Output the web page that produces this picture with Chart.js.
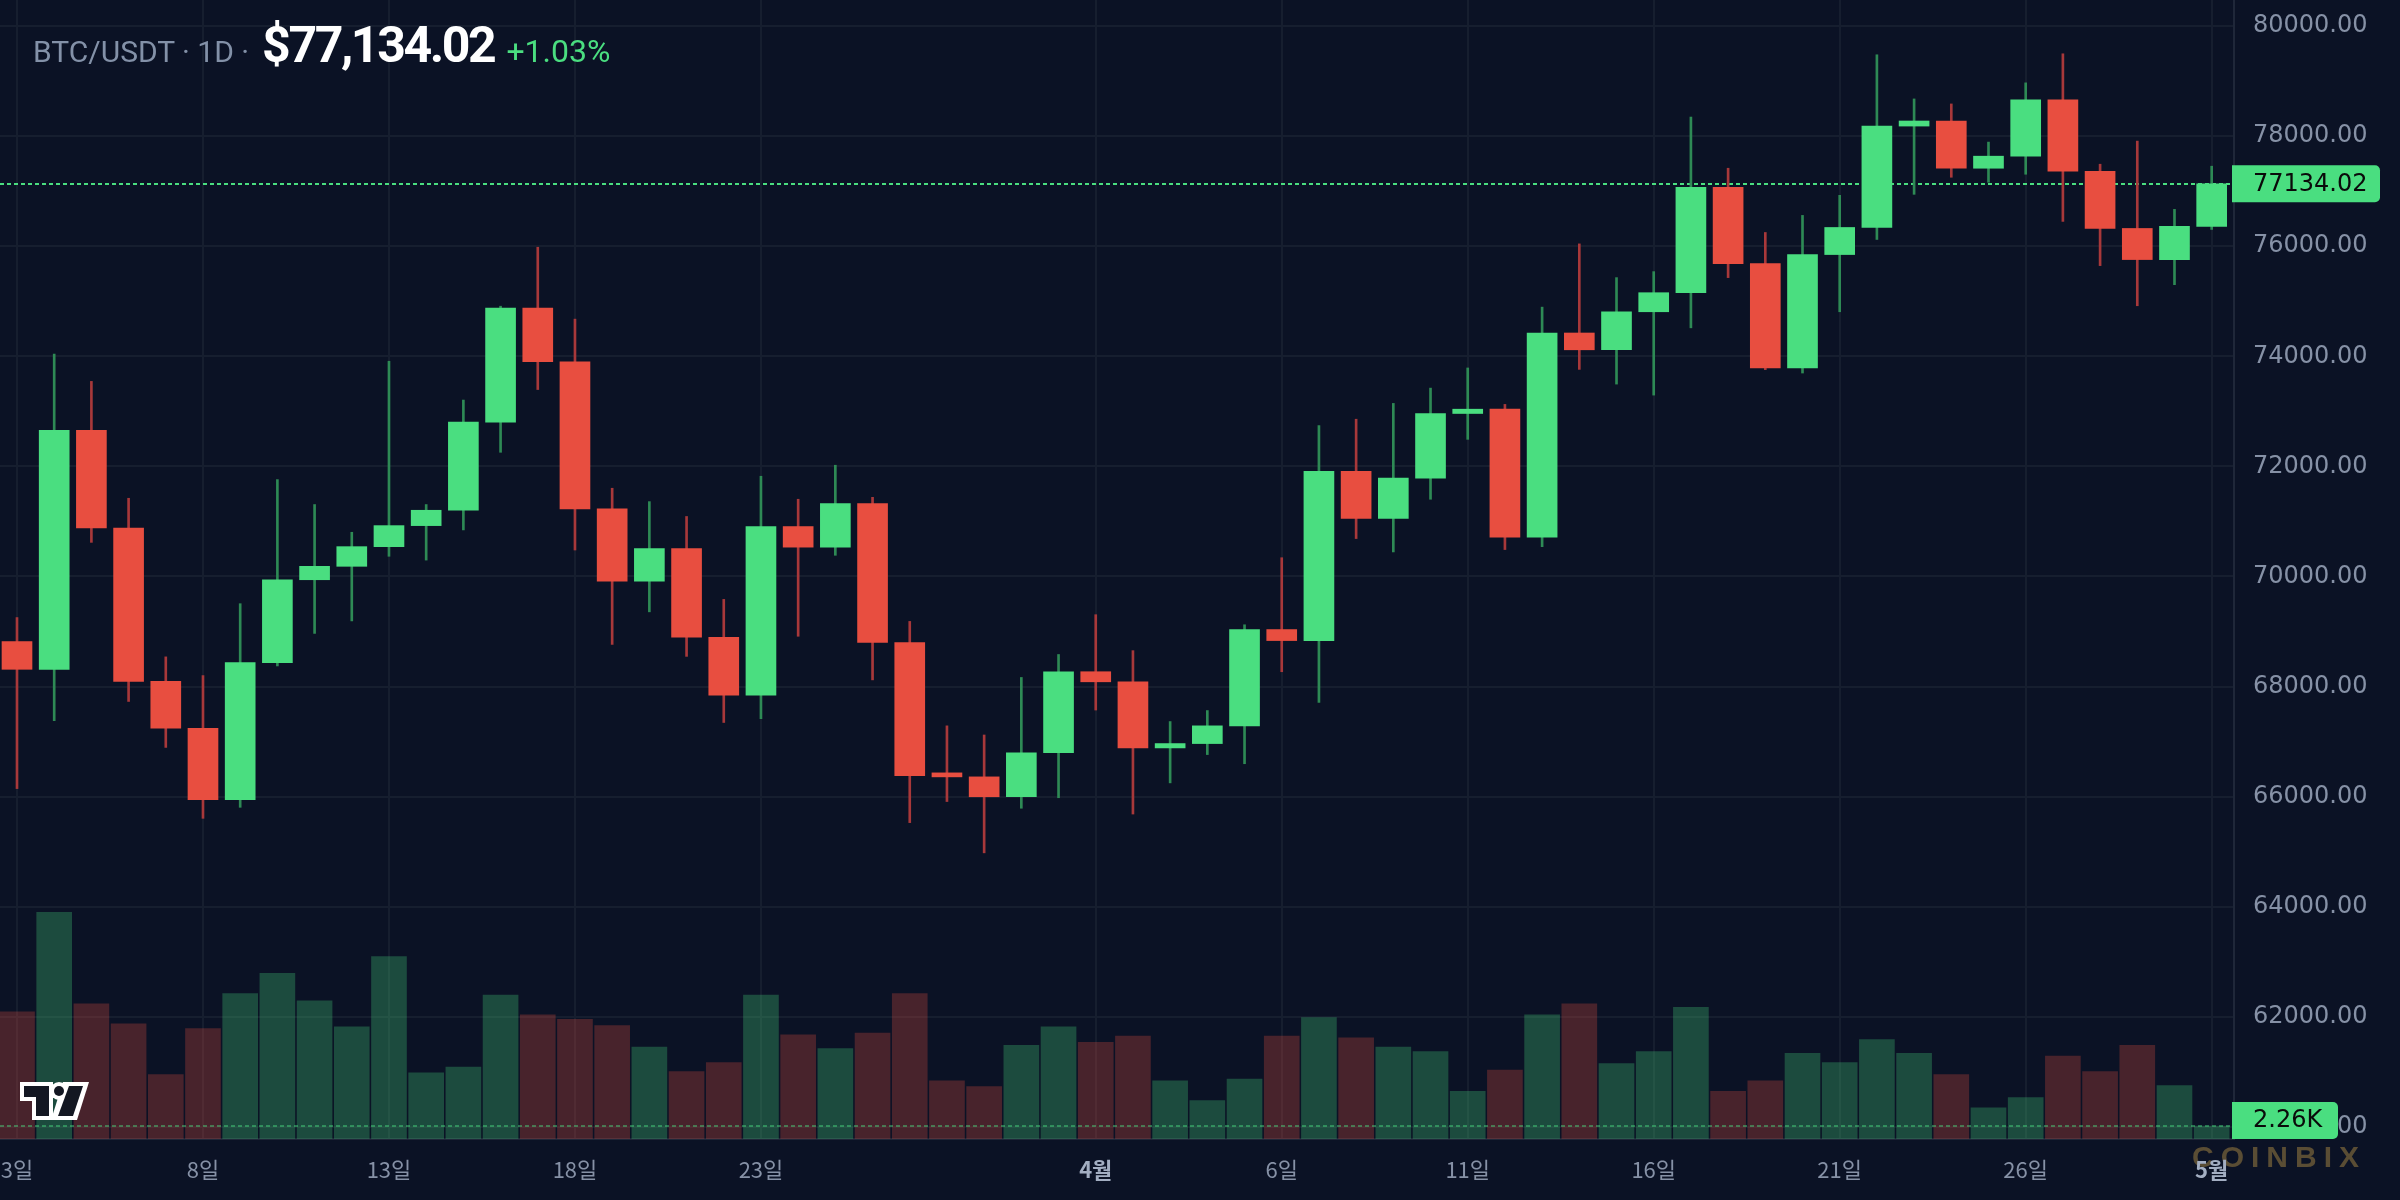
<!DOCTYPE html>
<html>
<head>
<meta charset="utf-8">
<script src="https://cdn.jsdelivr.net/npm/chart.js@4/dist/chart.umd.min.js"></script>
<style>
  body { margin: 0; background: #0b1225; }
  #wrap { position: relative; width: 2400px; height: 1200px; }
  #header {
    position: absolute; left: 33px; top: 16px; display: flex; align-items: baseline;
    font-family: Roboto, sans-serif; pointer-events: none; white-space: nowrap;
  }
  #header .sym { font-size: 30px; color: #8391a8; }
  #header .price { font-size: 50px; font-weight: 700; color: #ffffff; letter-spacing: -2.4px; margin: 0 12px 0 13px; }
  #header .chg { font-size: 32px; color: #4ade80; }
</style>
</head>
<body>
<div id="wrap">
  <canvas id="btcChart"></canvas>
  <div id="header">
    <span class="sym">BTC/USDT · 1D ·</span>
    <span class="price">$77,134.02</span>
    <span class="chg">+1.03%</span>
  </div>
</div>
<script>
// daily candles, 3 Mar .. 1 May
const opens = [68818, 68314, 72656, 70881, 68096, 67243, 65946, 68435, 69941, 70185,
    70542, 70924, 71203, 72804, 74876, 73901, 71229, 69915, 70507, 68897,
    67844, 70907, 70533, 71325, 68801, 66381, 66360, 65999, 66799, 68270,
    68087, 66886, 66965, 67287, 69036, 68836, 71908, 71055, 71786, 72961,
    73039, 70716, 74423, 74118, 74809, 75155, 77070, 75684, 73787, 75848,
    76340, 78182, 78274, 77416, 77635, 78657, 77362, 76322, 75757, 76359];
const highs = [69254, 74040, 73544, 71421, 68540, 68200, 69506, 71760, 71307, 70803,
    73910, 71307, 73205, 74910, 75981, 74675, 71603, 71360, 71090, 69584,
    71821, 71403, 72021, 71438, 69184, 67287, 67121, 68166, 68583, 69306,
    68653, 67365, 67565, 69123, 70341, 72743, 72857, 73144, 73422, 73788,
    73126, 74893, 76042, 75429, 75538, 78346, 77416, 76249, 76559, 76924,
    79477, 78675, 78584, 77891, 78967, 79495, 77489, 77909, 76669, 77453];
const lows = [66147, 67382, 70620, 67730, 66895, 65607, 65807, 68375, 68966, 69193,
    70367, 70298, 70846, 72256, 73396, 70481, 68766, 69358, 68549, 67348,
    67417, 68914, 70385, 68122, 65529, 65912, 64980, 65790, 65981, 67574,
    65685, 66251, 66765, 66599, 68270, 67713, 70689, 70446, 71403, 72491,
    70489, 70542, 73762, 73495, 73295, 74517, 75429, 73757, 73696, 74809,
    76122, 76942, 77252, 77161, 77307, 76450, 75647, 74918, 75301, 76304];
const closes = [68314, 72656, 70881, 68096, 67243, 65946, 68435, 69941, 70185, 70542,
    70924, 71203, 72804, 74876, 73901, 71229, 69915, 70507, 68897, 67844,
    70907, 70533, 71325, 68801, 66381, 66360, 65999, 66799, 68270, 68087,
    66886, 66965, 67287, 69036, 68836, 71908, 71055, 71786, 72961, 73039,
    70716, 74423, 74118, 74809, 75155, 77070, 75684, 73787, 75848, 76340,
    78182, 78274, 77416, 77635, 78657, 77362, 76322, 75757, 76359, 77134.02];
// volume in thousands
const volumes = [22.1, 39.4, 23.5, 20.0, 11.2, 19.2, 25.3, 28.8, 24.0, 19.5,
    31.7, 11.5, 12.5, 25.0, 21.6, 20.8, 19.7, 16.0, 11.7, 13.3,
    25.0, 18.1, 15.7, 18.4, 25.3, 10.1, 9.1, 16.3, 19.5, 16.8,
    17.9, 10.1, 6.7, 10.4, 17.9, 21.1, 17.6, 16.0, 15.2, 8.3,
    12.0, 21.6, 23.5, 13.1, 15.2, 22.9, 8.3, 10.1, 14.9, 13.3,
    17.3, 14.9, 11.2, 5.4, 7.2, 14.4, 11.7, 16.3, 9.3, 2.26];

const xTickIndex = [0, 5, 10, 15, 20, 29, 34, 39, 44, 49, 54, 59];
const xTickLabels = ['3일', '8일', '13일', '18일', '23일', '4월', '6일', '11일', '16일', '21일', '26일', '5월'];
const priceTicks = [60000, 62000, 64000, 66000, 68000, 70000, 72000, 74000, 76000, 78000, 80000];

const UP = '#4ade80';
const DOWN = '#e84e40';
const UP_WICK = '#2e8a55';
const DOWN_WICK = '#a8383a';
const GRID = '#161e2f';
const AXIS_TEXT = '#8691a6';

const lastClose = closes[closes.length - 1];
const lastVolume = volumes[volumes.length - 1];
const isUp = (i) => closes[i] >= opens[i];
const isMonth = (v) => {
    const k = xTickIndex.indexOf(v);
    return k >= 0 && xTickLabels[k].endsWith('월');
};

const overlays = {
    id: 'overlays',
    beforeDraw(chart) {
        const c = chart.ctx;
        c.save();
        c.font = 'bold 30px "Liberation Sans", Arial, sans-serif';
        c.letterSpacing = '7px';
        c.fillStyle = '#5a4d34';
        c.textBaseline = 'alphabetic';
        c.fillText('COINBIX', 2192, 1167);
        c.restore();
    },
    beforeDatasetsDraw(chart) {
        const c = chart.ctx;
        const area = chart.chartArea;
        const y = Math.round(chart.scales.y.getPixelForValue(lastClose));
        c.save();
        c.strokeStyle = UP;
        c.lineWidth = 2;
        c.setLineDash([4, 3]);
        c.beginPath();
        c.moveTo(area.left, y);
        c.lineTo(area.right, y);
        c.stroke();
        c.restore();
    },
    afterDatasetsDraw(chart) {
        const c = chart.ctx;
        const area = chart.chartArea;
        const y = Math.round(chart.scales.y2.getPixelForValue(lastVolume));
        c.save();
        c.strokeStyle = 'rgba(74, 222, 128, 0.45)';
        c.lineWidth = 2;
        c.setLineDash([4, 3]);
        c.beginPath();
        c.moveTo(area.left, y);
        c.lineTo(area.right, y);
        c.stroke();
        c.restore();

        // logo
        c.save();
        c.fillStyle = '#ffffff';
        c.fillRect(20, 1082, 33, 19);
        c.fillRect(32, 1082, 21, 38);
        c.beginPath(); c.arc(59, 1091, 9, 0, Math.PI * 2); c.fill();
        c.beginPath();
        c.moveTo(63, 1082); c.lineTo(89, 1082); c.lineTo(77, 1120); c.lineTo(51, 1120);
        c.closePath(); c.fill();
        c.fillStyle = '#131722';
        c.fillRect(24, 1086, 25, 11);
        c.fillRect(36, 1086, 13, 30);
        c.beginPath(); c.arc(59, 1091, 5, 0, Math.PI * 2); c.fill();
        c.beginPath();
        c.moveTo(69, 1086); c.lineTo(83, 1086); c.lineTo(73, 1116); c.lineTo(58, 1116);
        c.closePath(); c.fill();
        c.restore();
    },
    afterDraw(chart) {
        const c = chart.ctx;
        const area = chart.chartArea;
        c.save();
        c.font = '24px "DejaVu Sans", sans-serif';
        c.textBaseline = 'middle';

        // last price tag
        const py = chart.scales.y.getPixelForValue(lastClose);
        c.fillStyle = UP;
        c.beginPath();
        c.roundRect(area.right - 2, py - 18.5, 148, 37, [0, 5, 5, 0]);
        c.fill();
        c.fillStyle = '#0a0a0a';
        c.fillText(lastClose.toFixed(2), 2253, py + 1);

        // last volume tag
        const vy = chart.scales.y2.getPixelForValue(lastVolume);
        const top = Math.min(vy - 18.5, area.bottom - 37);
        c.fillStyle = UP;
        c.beginPath();
        c.roundRect(area.right - 2, top, 106, 37, [0, 5, 5, 0]);
        c.fill();
        c.fillStyle = '#0a0a0a';
        c.fillText(lastVolume.toFixed(2) + 'K', 2253, top + 19);
        c.restore();
    }
};

const ctx = document.getElementById('btcChart');

new Chart(ctx, {
    type: 'bar',
    data: {
        datasets: [{
            label: 'body',
            data: opens.map((o, i) => ({ x: i, y: [o, closes[i]] })),
            backgroundColor: (c) => isUp(c.dataIndex) ? UP : DOWN,
            barThickness: 30,
            minBarLength: 4,
            grouped: false,
            order: 1,
            yAxisID: 'y',
        }, {
            label: 'wick',
            data: lows.map((l, i) => ({ x: i, y: [l, highs[i]] })),
            backgroundColor: (c) => isUp(c.dataIndex) ? UP_WICK : DOWN_WICK,
            barThickness: 2,
            grouped: false,
            order: 2,
            yAxisID: 'y',
        }, {
            label: 'volume',
            data: volumes.map((v, i) => ({ x: i, y: v })),
            backgroundColor: (c) => isUp(c.dataIndex) ? 'rgba(74, 222, 128, 0.28)' : 'rgba(232, 78, 64, 0.28)',
            barThickness: 35,
            grouped: false,
            order: 3,
            yAxisID: 'y2',
        }]
    },
    options: {
        responsive: true,
        maintainAspectRatio: false,
        animation: false,
        events: [],
        layout: { padding: 0 },
        plugins: {
            legend: { display: false },
            tooltip: { enabled: false }
        },
        scales: {
            x: {
                type: 'linear',
                bounds: 'data',
                offset: false,
                min: -0.457,
                max: 59.6,
                afterBuildTicks: (scale) => {
                    scale.ticks = xTickIndex.map(v => ({ value: v }));
                },
                afterFit: (scale) => {
                    scale.height = 61;
                    scale.paddingLeft = 0;
                    scale.paddingRight = 0;
                },
                ticks: {
                    autoSkip: false,
                    maxRotation: 0,
                    padding: 17,
                    callback: (v) => xTickLabels[xTickIndex.indexOf(v)],
                    color: (c) => c.tick && isMonth(c.tick.value) ? '#a3aec2' : AXIS_TEXT,
                    font: (c) => ({
                        family: '"Noto Sans CJK KR", "Noto Sans", sans-serif',
                        size: 22,
                        weight: c.tick && isMonth(c.tick.value) ? 'bold' : 'normal'
                    })
                },
                grid: {
                    color: GRID,
                    lineWidth: 2,
                    drawTicks: false,
                    offset: false
                },
                border: {
                    color: '#1f2739',
                    width: 2
                }
            },
            y: {
                position: 'right',
                bounds: 'data',
                min: 59782,
                max: 80472,
                afterBuildTicks: (scale) => {
                    scale.ticks = priceTicks.map(v => ({ value: v }));
                },
                afterFit: (scale) => {
                    scale.width = 166;
                    scale.paddingTop = 0;
                    scale.paddingBottom = 0;
                },
                ticks: {
                    padding: 19,
                    color: AXIS_TEXT,
                    font: { family: '"DejaVu Sans", sans-serif', size: 24 },
                    callback: (v) => v.toFixed(2)
                },
                grid: {
                    color: GRID,
                    lineWidth: 2,
                    drawTicks: false
                },
                border: {
                    color: '#1f2739',
                    width: 2
                }
            },
            y2: {
                display: false,
                position: 'right',
                min: 0,
                max: 198
            }
        }
    },
    plugins: [overlays]
});
</script>
</body>
</html>
